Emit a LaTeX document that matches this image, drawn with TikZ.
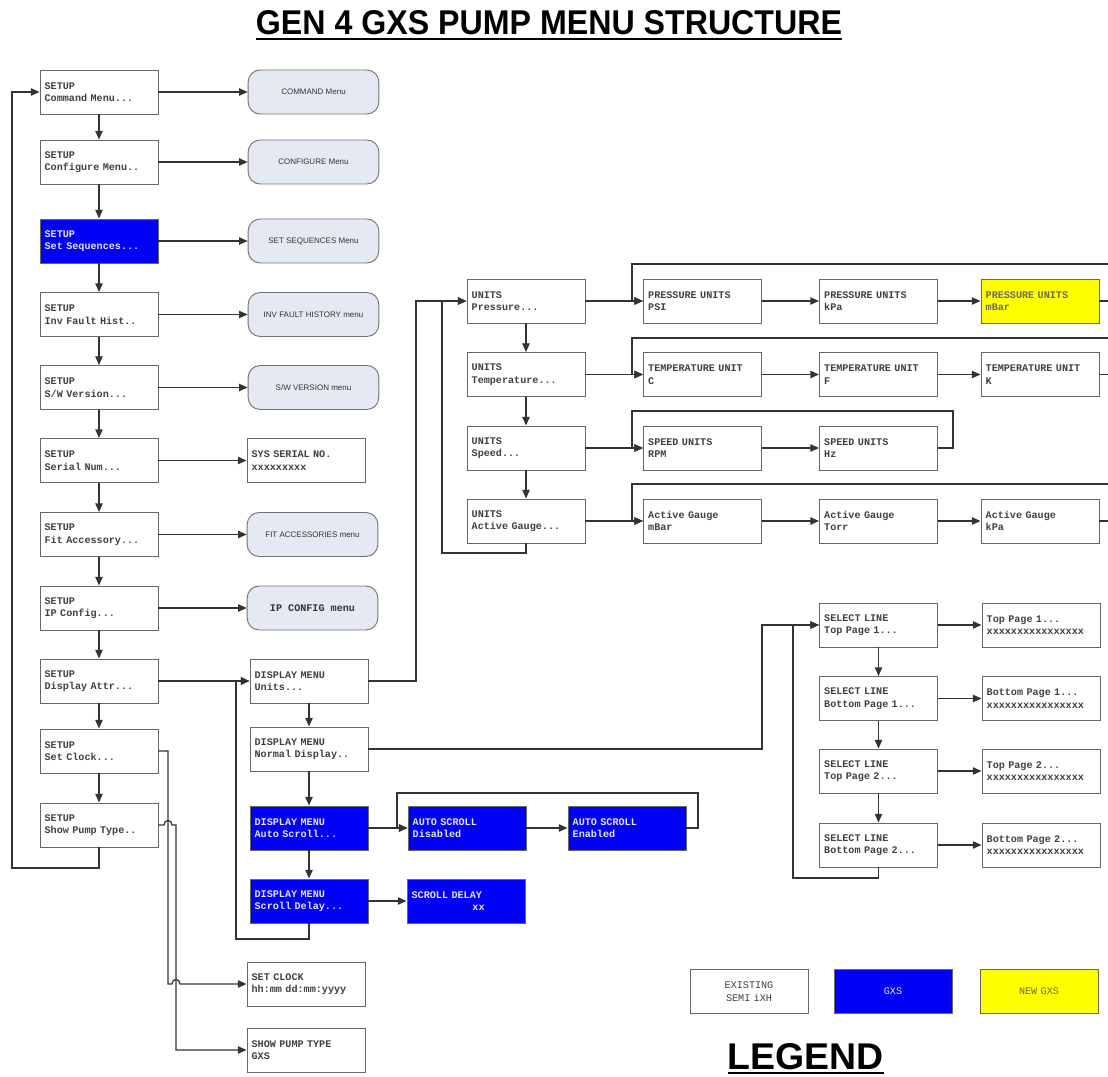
\documentclass[tikz,border=0pt]{standalone}
\usepackage{fontspec}
\setmainfont{Liberation Sans}
\setsansfont{Liberation Sans}
\setmonofont{Liberation Mono}[WordSpace={1,0,0}]
\usetikzlibrary{arrows.meta}
\definecolor{rbfill}{HTML}{E4E9F4}
\definecolor{gxsblue}{HTML}{0000F5}
\definecolor{newyel}{HTML}{FFFF00}
\begin{document}
\begin{tikzpicture}[x=0.75pt,y=-0.75pt,
  mbox/.style={draw=black!60, line width=0.7pt, fill=white, minimum width=88.5pt, minimum height=33pt,
    inner xsep=3.5pt, inner ysep=0pt, text width=81.5pt, align=left,
    font=\ttfamily\bfseries\fontsize{7.6}{9.4}\selectfont, text=black!75},
  gxs/.style={mbox, fill=gxsblue, text=white!90!blue},
  newgxs/.style={mbox, fill=newyel, text=black!65!yellow},
  rbox/.style={draw=black!55, line width=0.7pt, rounded corners=9pt, fill=rbfill,
    minimum width=98pt, minimum height=33pt, align=center,
    font=\sffamily\fontsize{6}{7}\selectfont, text=black!80},
  legtext/.style={align=center, font=\ttfamily\fontsize{7.6}{9.4}\selectfont},
  conn/.style={draw=black!80, line width=0.95pt, -{Triangle[length=6.5pt,width=5.5pt]}},
  wire/.style={draw=black!80, line width=0.95pt}
]
\useasboundingbox (0,0) rectangle (1108,1077);
\clip (0,0) rectangle (1108,1077);

% title
\node[inner sep=0pt] (title) at (549,23) {\resizebox{439.5pt}{18pt}{\bfseries GEN 4 GXS PUMP MENU STRUCTURE}};
\draw[line width=1.6pt] ([yshift=-3pt]title.south west) -- ([yshift=-3pt]title.south east);

% left column
\node[mbox] (c1) at (99,92) {SETUP\\Command Menu...};
\node[mbox] (c2) at (99,162) {SETUP\\Configure Menu..};
\node[gxs] (c3) at (99,241) {SETUP\\Set Sequences...};
\node[mbox] (c4) at (99,314.5) {SETUP\\Inv Fault Hist..};
\node[mbox] (c5) at (99,387.5) {SETUP\\S/W Version...};
\node[mbox] (c6) at (99,460.5) {SETUP\\Serial Num...};
\node[mbox] (c7) at (99,534.5) {SETUP\\Fit Accessory...};
\node[mbox] (c8) at (99,608) {SETUP\\IP Config...};
\node[mbox] (c9) at (99,681) {SETUP\\Display Attr...};
\node[mbox] (c10) at (99,751) {SETUP\\Set Clock...};
\node[mbox] (c11) at (99,825) {SETUP\\Show Pump Type..};

% sub menus
\node[rbox] (r1) at (313.5,92) {COMMAND Menu};
\node[rbox] (r2) at (313.5,162) {CONFIGURE Menu};
\node[rbox] (r3) at (313.5,241) {SET SEQUENCES Menu};
\node[rbox] (r4) at (313.5,314.5) {INV FAULT HISTORY menu};
\node[rbox] (r5) at (313.5,387.5) {S/W VERSION menu};
\node[mbox] (r6) at (306,460.5) {SYS SERIAL NO.\\xxxxxxxxx};
\node[rbox] (r7) at (312.5,534.5) {FIT ACCESSORIES menu};
\node[rbox, font=\ttfamily\bfseries\fontsize{7.6}{9.4}\selectfont] (r8) at (312.5,608) {IP CONFIG menu};

% display menu
\node[mbox] (dm1) at (309,681) {DISPLAY MENU\\Units...};
\node[mbox] (dm2) at (309,749) {DISPLAY MENU\\Normal Display..};
\node[gxs] (dm3) at (309,828) {DISPLAY MENU\\Auto Scroll...};
\node[gxs] (dm4) at (309,901) {DISPLAY MENU\\Scroll Delay...};
\node[gxs] (as1) at (467,828) {AUTO SCROLL\\Disabled};
\node[gxs] (as2) at (627,828) {AUTO SCROLL\\Enabled};
\node[gxs] (sd1) at (466,901) {SCROLL DELAY\\\phantom{xxxxxxxxxx}xx};

% units
\node[mbox] (u1) at (526,301) {UNITS\\Pressure...};
\node[mbox] (u2) at (526,374.5) {UNITS\\Temperature...};
\node[mbox] (u3) at (526,448) {UNITS\\Speed...};
\node[mbox] (u4) at (526,521) {UNITS\\Active Gauge...};
\node[mbox] (p1) at (702.5,301) {PRESSURE UNITS\\PSI};
\node[mbox] (p2) at (878.5,301) {PRESSURE UNITS\\kPa};
\node[newgxs] (p3) at (1040,301) {PRESSURE UNITS\\mBar};
\node[mbox] (t1) at (702.5,374.5) {TEMPERATURE UNIT\\C};
\node[mbox] (t2) at (878.5,374.5) {TEMPERATURE UNIT\\F};
\node[mbox] (t3) at (1040,374.5) {TEMPERATURE UNIT\\K};
\node[mbox] (v1) at (702.5,448) {SPEED UNITS\\RPM};
\node[mbox] (v2) at (878.5,448) {SPEED UNITS\\Hz};
\node[mbox] (g1) at (702.5,521) {Active Gauge\\mBar};
\node[mbox] (g2) at (878.5,521) {Active Gauge\\Torr};
\node[mbox] (g3) at (1040,521) {Active Gauge\\kPa};

% select line
\node[mbox] (s1) at (878.5,625) {SELECT LINE\\Top Page 1...};
\node[mbox] (s2) at (878.5,698.5) {SELECT LINE\\Bottom Page 1...};
\node[mbox] (s3) at (878.5,771) {SELECT LINE\\Top Page 2...};
\node[mbox] (s4) at (878.5,845) {SELECT LINE\\Bottom Page 2...};
\node[mbox] (o1) at (1041,625) {Top Page 1...\\xxxxxxxxxxxxxxxx};
\node[mbox] (o2) at (1041,698.5) {Bottom Page 1...\\xxxxxxxxxxxxxxxx};
\node[mbox] (o3) at (1041,771) {Top Page 2...\\xxxxxxxxxxxxxxxx};
\node[mbox] (o4) at (1041,845) {Bottom Page 2...\\xxxxxxxxxxxxxxxx};

% clock / pump type
\node[mbox] (sc) at (306,984) {SET CLOCK\\hh:mm dd:mm:yyyy};
\node[mbox] (spt) at (306,1050) {SHOW PUMP TYPE\\GXS};

% legend
\node[mbox, legtext] (lg1) at (749,991.5) {EXISTING\\SEMI iXH};
\node[gxs, legtext] (lg2) at (893,991.5) {GXS};
\node[newgxs, legtext] (lg3) at (1039,991.5) {NEW GXS};
\node[inner sep=0pt] (leg) at (806,1057) {\resizebox{117pt}{19.5pt}{\bfseries LEGEND}};
\draw[line width=1.5pt] ([yshift=-1.8pt]leg.south west) -- ([yshift=-1.8pt]leg.south east);

% coordinates for loops
\coordinate (lpL) at (12,868);
\coordinate (sdL) at (236,939);
\coordinate (uX) at (416,301);
\coordinate (uL) at (442,553);
\coordinate (ndX) at (762,625);
\coordinate (sL) at (793,878);
\coordinate (asR) at (698,793);
\coordinate (asL) at (397,793);
\coordinate (pR) at (1120,264);
\coordinate (pL) at (632,264);
\coordinate (tR) at (1120,338);
\coordinate (tL) at (632,338);
\coordinate (vR) at (953,411);
\coordinate (vL) at (632,411);
\coordinate (gR) at (1120,484);
\coordinate (gL) at (632,484);
\coordinate (scX) at (168,984);
\coordinate (sptX) at (176,1050);

% vertical chains
\foreach \a/\b in {c1/c2,c2/c3,c3/c4,c4/c5,c5/c6,c6/c7,c7/c8,c8/c9,c9/c10,c10/c11,
  dm1/dm2,dm2/dm3,dm3/dm4,u1/u2,u2/u3,u3/u4,s1/s2,s2/s3,s3/s4}
  \draw[conn] (\a.south) -- (\b.north);

% horizontal links
\foreach \a/\b in {c1/r1,c2/r2,c3/r3,c4/r4,c5/r5,c6/r6,c7/r7,c8/r8,c9/dm1,
  dm3/as1,as1/as2,dm4/sd1,u1/p1,p1/p2,p2/p3,u2/t1,t1/t2,t2/t3,u3/v1,v1/v2,
  u4/g1,g1/g2,g2/g3,s1/o1,s2/o2,s3/o3,s4/o4}
  \draw[conn] (\a.east) -- (\a.east -| \b.west);

% loops
\draw[conn] (c11.south) |- (lpL) |- (c1.west);
\draw[conn] (dm4.south) |- (sdL) |- (dm1.west);
\draw[conn] (dm1.east) -| (uX) -- (u1.west);
\draw[conn] (u4.south) |- (uL) |- (u1.west);
\draw[conn] (dm2.east) -| (ndX) -- (s1.west);
\draw[conn] (s4.south) |- (sL) |- (s1.west);
\draw[conn] (as2.east) -| (asR) -- (asL) |- (as1.west);
\draw[conn] (p3.east) -| (pR) -- (pL) |- (p1.west);
\draw[conn] (t3.east) -| (tR) -- (tL) |- (t1.west);
\draw[conn] (v2.east) -| (vR) -- (vL) |- (v1.west);
\draw[conn] (g3.east) -| (gR) -- (gL) |- (g1.west);

% set clock and show pump type with line hops
\draw[conn] (c10.east) -| (scX) -- (172,984) .. controls (172,978) and (180,978) .. (180,984) -- (sc.west);
\draw[conn] (c11.east) -- (164,825) .. controls (164,819) and (172,819) .. (172,825) -| (sptX) -- (spt.west);
\end{tikzpicture}
\end{document}
